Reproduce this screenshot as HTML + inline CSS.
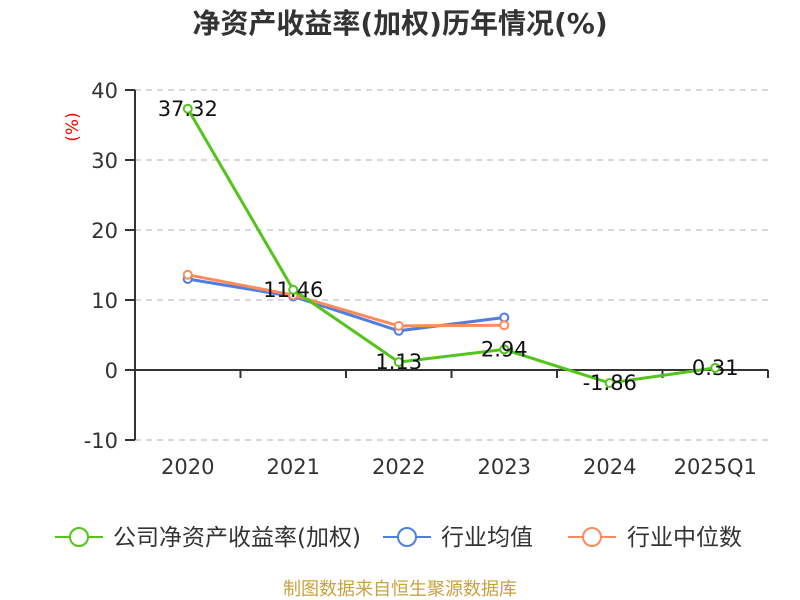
<!DOCTYPE html>
<html><head><meta charset="utf-8"><style>
body{margin:0;background:#fff;}
svg{display:block;font-family:"DejaVu Sans","Noto Sans CJK SC",sans-serif;}
</style></head><body>
<svg id="chart" width="800" height="600">
<text x="400" y="33" text-anchor="middle" font-size="28" font-weight="bold" fill="#333">净资产收益率(加权)历年情况(%)</text>
<text transform="translate(78,127) rotate(-90)" text-anchor="middle" font-size="17" fill="#f00">(%)</text>
<g id="grid"></g><g id="axes"></g><g id="series"></g>
<g>
<g><line x1="55" y1="537" x2="103" y2="537" stroke="#52c41a" stroke-width="2"/><circle cx="79" cy="537" r="9" fill="#fff" stroke="#52c41a" stroke-width="2"/><text x="113" y="545" font-size="23" fill="#333">公司净资产收益率(加权)</text></g>
<g><line x1="383" y1="537" x2="431" y2="537" stroke="#4e7fe0" stroke-width="2"/><circle cx="407" cy="537" r="9" fill="#fff" stroke="#4e7fe0" stroke-width="2"/><text x="441" y="545" font-size="23" fill="#333">行业均值</text></g>
<g><line x1="568" y1="537" x2="616" y2="537" stroke="#ff8a5b" stroke-width="2"/><circle cx="592" cy="537" r="9" fill="#fff" stroke="#ff8a5b" stroke-width="2"/><text x="627" y="545" font-size="23" fill="#333">行业中位数</text></g>
</g>
<text x="400" y="595" text-anchor="middle" font-size="18" fill="#c9a23c">制图数据来自恒生聚源数据库</text>
</svg>
<script>
const categories=["2020","2021","2022","2023","2024","2025Q1"];
const companyRoe=[37.32,11.46,1.13,2.94,-1.86,0.31];
const industryAvg=[13.0,10.5,5.6,7.5];
const industryMedian=[13.6,10.7,6.3,6.4];
const yTicks=[-10,0,10,20,30,40];
const NS="http://www.w3.org/2000/svg";
const L=135,R=768,band=(R-L)/categories.length;
const x=i=>L+band*(i+0.5);
const y=v=>370-v*7;
function mk(tag,attrs,parent,text){const e=document.createElementNS(NS,tag);for(const k in attrs)e.setAttribute(k,attrs[k]);if(text!=null)e.textContent=text;parent.appendChild(e);return e;}
const grid=document.getElementById('grid'),axes=document.getElementById('axes'),ser=document.getElementById('series');
yTicks.forEach(t=>{
 if(t!==0){const g=mk('line',{x1:L,x2:R,y1:y(t),y2:y(t),stroke:'#ccc','stroke-dasharray':'6,5','stroke-width':1.5},grid);
 
 }
 mk('line',{x1:125,x2:L,y1:y(t),y2:y(t),stroke:'#333','stroke-width':2},axes);
 const tl=mk('text',{x:118,y:y(t)+8,'text-anchor':'end','font-size':21,fill:'#333'},axes,String(t));
 
 
});
const ya=mk('line',{x1:L,x2:L,y1:y(40),y2:y(-10),stroke:'#333','stroke-width':2},axes);


const xa=mk('line',{x1:L,x2:R,y1:y(0),y2:y(0),stroke:'#333','stroke-width':2},axes);


for(let i=0;i<=categories.length;i++)mk('line',{x1:L+band*i,x2:L+band*i,y1:y(0),y2:y(0)+8,stroke:'#333','stroke-width':2},axes);
categories.forEach((c,i)=>{const t=mk('text',{x:x(i),y:474,'text-anchor':'middle','font-size':21,fill:'#333'},axes,c);
 
 });
function series(vals,color,name,labels){
 const p=mk('polyline',{points:vals.map((v,i)=>x(i)+','+y(v)).join(' '),fill:'none',stroke:color,'stroke-width':3},ser);
 
 
 vals.forEach((v,i)=>{const c=mk('circle',{cx:x(i),cy:y(v),r:4,fill:'#fff',stroke:color,'stroke-width':2},ser);
  
  });
 if(labels)vals.forEach((v,i)=>{const t=mk('text',{x:x(i),y:y(v)+7,'text-anchor':'middle','font-size':21,fill:'#111'},ser,v.toFixed(2));
  
  });
}
series(industryAvg,'#4e7fe0','industry-average',false);
series(industryMedian,'#ff8a5b','industry-median',false);
series(companyRoe,'#52c41a','company-roe',true);
</script>
</body></html>
